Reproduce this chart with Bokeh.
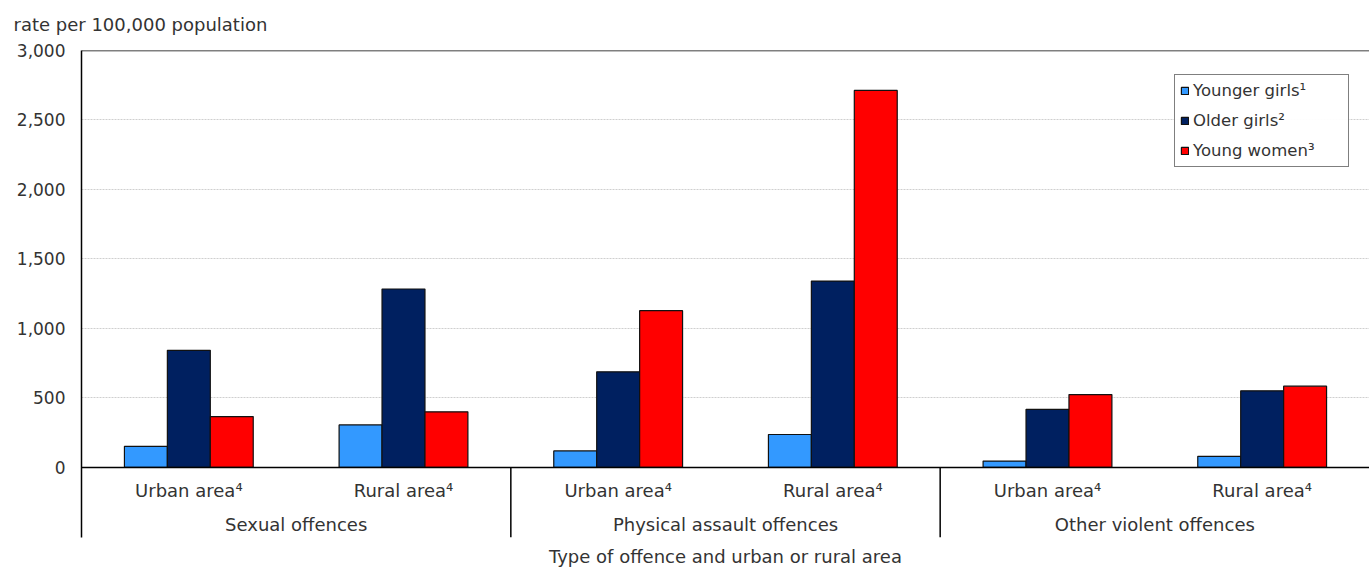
from bokeh.plotting import figure
from bokeh.models import (ColumnDataSource, FactorRange, Range1d, FixedTicker,
                          NumeralTickFormatter, Span, Legend, LegendItem, Title)
from bokeh.transform import dodge
from bokeh.core.properties import value
from bokeh.embed import file_html
from bokeh.resources import INLINE

# ---- data ----
groups = ["Sexual offences", "Physical assault offences", "Other violent offences"]
areas = ["Urban area\u2074", "Rural area\u2074"]
series_names = ["Younger girls\u00b9", "Older girls\u00b2", "Young women\u00b3"]
younger_girls = [152, 306, 119, 237, 46, 80]
older_girls = [843, 1284, 688, 1341, 418, 551]
young_women = [366, 400, 1128, 2713, 524, 585]
y_ticks = [0, 500, 1000, 1500, 2000, 2500, 3000]
y_axis_title = "rate per 100,000 population"
x_axis_title = "Type of offence and urban or rural area"

colors = ["#3399ff", "#002060", "#ff0000"]
FONT = "DejaVu Sans"
TEXT_COLOR = "#333333"
FS = "18px"

factors = [(g, a) for g in groups for a in areas]
src = ColumnDataSource(dict(x=factors, younger=younger_girls, older=older_girls, women=young_women))

y_min = -504
p = figure(width=1369, height=573, output_backend="svg", toolbar_location=None,
           x_range=FactorRange(*factors, range_padding=0, group_padding=0,
                               subgroup_padding=0, factor_padding=0),
           y_range=Range1d(y_min, 3000),
           min_border_left=81, min_border_right=0, min_border_top=50, min_border_bottom=36)
p.outline_line_color = None
p.background_fill_color = "white"
p.border_fill_color = "white"

# grid
p.xgrid.grid_line_color = None
p.ygrid.ticker = FixedTicker(ticks=y_ticks)
p.ygrid.grid_line_color = "#cfcfcf"
p.ygrid.grid_line_dash = "2 1"

# axes
p.xaxis.visible = False
yax = p.yaxis[0]
yax.ticker = FixedTicker(ticks=y_ticks)
yax.formatter = NumeralTickFormatter(format="0,0")
yax.major_tick_line_color = None
yax.minor_tick_line_color = None
yax.major_tick_out = 0
yax.major_tick_in = 0
yax.major_label_standoff = 16
yax.major_label_text_font = FONT
yax.major_label_text_font_size = "17px"
yax.major_label_text_color = TEXT_COLOR
yax.axis_line_color = "black"
yax.axis_line_width = 1.5

# bars
renderers = []
for field, off, col in zip(["younger", "older", "women"], [-0.2, 0.0, 0.2], colors):
    r = p.vbar(x=dodge("x", off, range=p.x_range), top=field, bottom=0, width=0.2,
               source=src, fill_color=col, line_color="#111111", line_width=1.2)
    renderers.append(r)

# baseline and top border
p.add_layout(Span(location=0, dimension="width", line_color="black", line_width=1.5))
p.add_layout(Span(location=3000, dimension="width", line_color="black", line_width=1.5))

# group separators
sep_src = ColumnDataSource(dict(x=[(groups[0], areas[1]), (groups[1], areas[1])],
                                y0=[0, 0], y1=[y_min, y_min]))
p.segment(x0=dodge("x", 0.5, range=p.x_range), x1=dodge("x", 0.5, range=p.x_range),
          y0="y0", y1="y1", source=sep_src, line_color="black", line_width=1.5)

# category labels
lab_src = ColumnDataSource(dict(x=factors, y=[-165] * len(factors), t=[f[1] for f in factors]))
p.text(x="x", y="y", text="t", source=lab_src, text_align="center", text_baseline="middle",
       text_font=value(FONT), text_font_size=FS, text_color=TEXT_COLOR)
grp_src = ColumnDataSource(dict(x=groups, y=[-410] * len(groups), t=groups))
p.text(x="x", y="y", text="t", source=grp_src, text_align="center", text_baseline="middle",
       text_font=value(FONT), text_font_size=FS, text_color=TEXT_COLOR)

# titles
t_top = Title(text=y_axis_title, align="left", offset=-68, standoff=27, vertical_align="top",
              text_font=FONT, text_font_size=FS, text_font_style="normal",
              text_color=TEXT_COLOR)
p.add_layout(t_top, "above")
t_bot = Title(text=x_axis_title, align="center", standoff=13,
              text_font=FONT, text_font_size=FS, text_font_style="normal",
              text_color=TEXT_COLOR)
p.add_layout(t_bot, "below")

# legend
legend = Legend(items=[LegendItem(label=n, renderers=[r]) for n, r in zip(series_names, renderers)],
                location=(1093, 370), padding=5, spacing=9, label_height=21, label_width=150,
                glyph_width=9, glyph_height=9, label_standoff=4,
                label_text_font=FONT, label_text_font_size="16.5px", label_text_color=TEXT_COLOR,
                border_line_color="black", border_line_width=1.2, background_fill_color="white",
                margin=0)
p.add_layout(legend, "center")

open("out.html", "w").write(file_html(p, INLINE))
